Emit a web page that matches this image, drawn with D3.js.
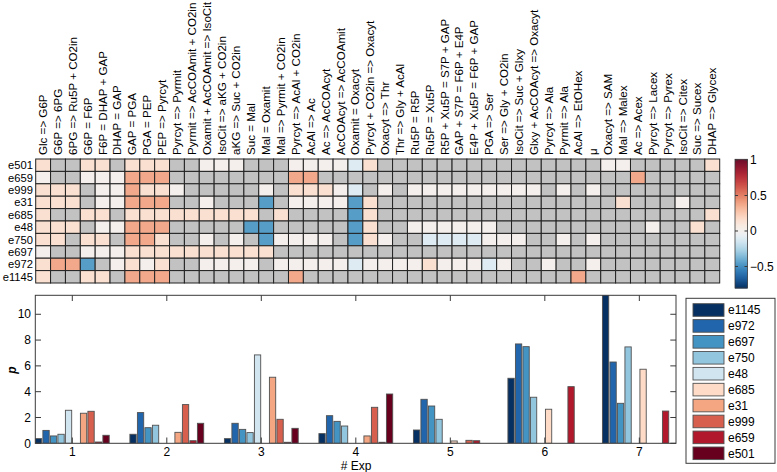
<!DOCTYPE html>
<html><head><meta charset="utf-8">
<script src="https://cdn.jsdelivr.net/npm/d3@7"></script>
<style>body{margin:0;background:#fff} text{font-family:"Liberation Sans",Arial,Helvetica,sans-serif;fill:#000}</style>
</head><body><svg id="c" width="777" height="472"></svg>
<script>
// ---------- DATA ----------
const reactions = ["Glc => G6P","G6P => 6PG","6PG => Ru5P + CO2in","G6P = F6P","F6P = DHAP + GAP","DHAP = GAP","GAP = PGA","PGA = PEP","PEP => Pyrcyt","Pyrcyt => Pyrmit","Pyrmit => AcCOAmit + CO2in","Oxamit + AcCOAmit => IsoCit","IsoCit => aKG + CO2in","aKG => Suc + CO2in","Suc = Mal","Mal = Oxamit","Mal => Pyrmit + CO2in","Pyrcyt => AcAl + CO2in","AcAl => Ac","Ac => AcCOAcyt","AcCOAcyt => AcCOAmit","Oxamit = Oxacyt","Pyrcyt + CO2in => Oxacyt","Oxacyt => Thr","Thr => Gly + AcAl","Ru5P = R5P","Ru5P = Xu5P","R5P + Xu5P = S7P + GAP","GAP + S7P = F6P + E4P","E4P + Xu5P = F6P + GAP","PGA => Ser","Ser => Gly + CO2in","IsoCit => Suc + Glxy","Glxy + AcCOAcyt => Oxacyt","Pyrcyt => Ala","Pyrmit => Ala","AcAl => EtOHex","\u03bc","Oxacyt => SAM","Mal => Malex","Ac => Acex","Pyrcyt => Lacex","Pyrcyt => Pyrex","IsoCit => Citex","Suc => Sucex","DHAP => Glycex"];
const strains = ["e501","e659","e999","e31","e685","e48","e750","e697","e972","e1145"];
const _ = null;
//                 1    2    3    4    5    6    7    8    9   10   11   12   13   14   15   16   17   18   19   20   21   22   23   24   25   26   27   28   29   30   31   32   33   34   35   36   37   38   39   40   41   42   43   44   45   46
const heatE501  = [.15,  _,   _, .15, .15,  _, .15, .15, .15,  _,   _, .02, .02, .02,  _,   _,   _, .02, .02, .02, .02,-.10, .15,  _,   _,   _,   _,   _,   _,   _,   _,   _,   _,   _,   _,   _,   _,   _, .02, .02,  _,   _,   _,   _,   _, .15];
const heatE659  = [.02,  _,   _, .02, .02, .02, .38, .38, .38,  _,   _,   _,   _,   _,   _,   _,   _, .38, .38,  _,   _,   _,   _,   _,   _,   _,   _,   _,   _,   _,   _,   _,   _,   _,   _,   _,   _,   _,   _,   _, .38,  _,   _,   _,   _,   _];
const heatE999  = [.15, .15, .15,  _, .02, .02, .38, .15, .15, .02,   _,   _,   _,   _,   _, .02,   _, .15, .15, .15, .02,-.10,   _, .02,   _, .02, .02, .02, .02, .02, .02, .02, .02, .02,   _, .02,   _, .02,   _,   _,   _,   _,   _,   _,   _,   _];
const heatE31   = [.15, .15, .15,  _, .02, .02, .38, .38, .38,  _,   _, .02,   _,   _,   _,-.45,   _, .02, .02, .02, .02,-.45, .15,   _,   _,   _,   _,   _,   _,   _,   _,   _,   _,   _,   _,   _,   _,   _,   _, .15,   _,   _,   _, .02,   _,   _];
const heatE685  = [.15,  _,   _, .15, .15,  _, .15, .15, .15, .15, .15, .15, .15, .15, .15,   _, .15,   _,   _,   _,   _,-.45, .15,   _,   _,   _,   _,   _,   _,   _,   _,   _,   _,   _,   _,   _,   _,   _,   _,   _,   _,   _,   _,   _,   _, .15];
const heatE48   = [.15, .15, .15,  _, .02, .02, .38, .38, .38,  _,   _,   _,   _,   _,-.45,-.45,   _,   _,   _,   _,   _,-.45, .15,   _,   _, .02, .02, .02, .02, .02, .02,   _,   _,   _,   _,   _,   _,   _,   _,   _,   _, .02,   _,   _, .15,   _];
const heatE750  = [.15, .15,  _, .15, .15,  _, .38, .38, .15,  _,   _, .02,   _, .02,   _,-.45, .02, .02, .02, .02,   _,-.45, .15, .02,   _,   _,-.10,-.10,-.10,-.10, .02, .02, .02,   _,   _, .02,   _, .02,   _,   _,   _,   _,   _,   _,   _,   _];
const heatE697  = [.02,  _,   _, .02, .02, .02, .15, .15, .15, .15, .15, .15, .15, .15, .15, .15,   _,   _,   _,   _,   _,   _,   _,   _,   _,   _,   _,   _,   _,   _,   _,   _,   _,   _,   _,   _,   _,   _,   _,   _,   _,   _,   _,   _,   _,   _];
const heatE972  = [.15, .38, .38,-.45,  _, .02, .15, .02, .15,  _,   _, .02, .02, .02, .02,   _, .02, .02, .02, .02, .02,-.10, .02, .02, .02, .02, .15, .02, .02, .02,-.10, .02,   _,   _, .02,   _,   _, .02,   _,   _,   _,   _,   _,   _,   _,   _];
const heatE1145 = [.15,  _,   _, .15, .15,  _, .38, .38, .38,  _,   _,   _,   _,   _,   _,   _,   _, .38,   _,   _,   _,   _,   _,   _,   _,   _,   _,   _,   _,   _,   _,   _,   _,   _,   _,   _, .38,   _,   _,   _,   _,   _,   _,   _,   _,   _];
const heatRows = [heatE501, heatE659, heatE999, heatE31, heatE685, heatE48, heatE750, heatE697, heatE972, heatE1145];
const colorTicks = [1, 0.5, 0, -0.5];

const expLabels = [1, 2, 3, 4, 5, 6, 7];
const barSeries = ["e1145","e972","e697","e750","e48","e685","e31","e999","e659","e501"];
const pE1145 = [0.36, 0.70, 0.36, 0.75, 1.03, 5.04, 12.0];
const pE972  = [1.00, 2.38, 1.55, 2.14, 3.41, 7.70, 6.30];
const pE697  = [0.57, 1.21, 1.08, 1.70, 2.89, 7.49, 3.10];
const pE750  = [0.70, 1.40, 0.83, 1.34, 1.86, 3.57, 7.47];
const pE48   = [2.56, _, 6.85, _, _, _, _];
const pE685  = [_, _, _, _, 0.18, 2.64, 5.74];
const pE31   = [2.33, 0.85, 5.12, 0.57, _, _, _];
const pE999  = [2.48, 3.00, 1.86, 2.79, 0.23, _, _];
const pE659  = [0.10, 0.20, 0.08, 0.08, 0.20, 4.39, 2.50];
const pE501  = [0.62, 1.55, 1.16, 3.82, _, _, _];
const barValues = [pE1145, pE972, pE697, pE750, pE48, pE685, pE31, pE999, pE659, pE501];
const yTicks = [0, 2, 4, 6, 8, 10];

// ---------- DRAW ----------
const svg = d3.select("#c");
const AX = "#3a3a3a";

// Heatmap
const hx = d3.scaleBand(d3.range(reactions.length), [35.7, 719.7]);
const hy = d3.scaleBand(strains, [159, 283]);
const color = d3.scaleDiverging([-0.8, 0, 1], t => d3.interpolateRdBu(1 - t));
const heat = svg.append("g");
strains.forEach((s, r) => {
  heatRows[r].forEach((v, c) => {
    heat.append("rect")
      .attr("x", hx(c)).attr("y", hy(s))
      .attr("width", hx.bandwidth()).attr("height", hy.bandwidth())
      .attr("fill", v === null ? "#c2c2c2" : color(v))
      .attr("stroke", "#222").attr("stroke-width", 1);
  });
});
// column labels
svg.append("g").selectAll("text").data(reactions).join("text")
  .attr("transform", (d, i) => `translate(${hx(i) + hx.bandwidth() / 2 + 4},155) rotate(-90)`)
  .attr("font-size", 11.6).text(d => d);
// row labels
svg.append("g").selectAll("text").data(strains).join("text")
  .attr("x", 33).attr("y", d => hy(d) + hy.bandwidth() / 2 + 4)
  .attr("text-anchor", "end").attr("font-size", 11.2).text(d => d);

// Colorbar
const cb = d3.scaleLinear([-0.803, 1.01], [288, 159.3]);
const cbg = svg.append("g");
const nSteps = 128;
for (let k = 0; k < nSteps; k++) {
  const v0 = -0.803 + (1.813 * k) / nSteps, v1 = -0.803 + (1.813 * (k + 1)) / nSteps;
  cbg.append("rect").attr("x", 735).attr("width", 12.5)
    .attr("y", cb(v1)).attr("height", cb(v0) - cb(v1) + 0.5)
    .attr("fill", color((v0 + v1) / 2));
}
cbg.append("rect").attr("x", 735).attr("y", 159.3).attr("width", 12.5).attr("height", 288 - 159.3)
  .attr("fill", "none").attr("stroke", AX).attr("stroke-width", 0.8);
colorTicks.forEach(t => {
  cbg.append("line").attr("x1", 744.5).attr("x2", 747.5).attr("y1", cb(t)).attr("y2", cb(t)).attr("stroke", AX);
  cbg.append("line").attr("x1", 735).attr("x2", 738).attr("y1", cb(t)).attr("y2", cb(t)).attr("stroke", AX);
  cbg.append("text").attr("x", 750).attr("y", cb(t) + 4.2).attr("font-size", 12)
    .text(t < 0 ? "\u2212" + Math.abs(t) : String(t));
});

// Bar chart
const x = d3.scaleLinear([0.6085, 7.388], [35.3, 676]);
const y = d3.scaleLinear([0, 11.47], [443.3, 295.3]);
const inner = d3.scaleBand(barSeries, [-37.5, 37.5]).paddingInner(0.16).paddingOuter(0.08);
const barColors = d3.schemeRdBu[10].slice().reverse();
svg.append("clipPath").attr("id", "clip").append("rect")
  .attr("x", 35.3).attr("y", 295.3).attr("width", 676 - 35.3).attr("height", 443.3 - 295.3);
const bars = svg.append("g").attr("clip-path", "url(#clip)");
barSeries.forEach((s, i) => {
  barValues[i].forEach((v, g) => {
    if (v === null) return;
    bars.append("rect")
      .attr("x", x(expLabels[g]) + inner(s)).attr("width", inner.bandwidth())
      .attr("y", y(v)).attr("height", y(0) - y(v))
      .attr("fill", barColors[i]).attr("stroke", "#505050").attr("stroke-width", 0.9);
  });
});
// axes box
const axg = svg.append("g").attr("stroke", AX).attr("stroke-width", 1).attr("fill", "none");
axg.append("rect").attr("x", 35.3).attr("y", 295.3).attr("width", 676 - 35.3).attr("height", 443.3 - 295.3);
expLabels.forEach(e => {
  axg.append("line").attr("x1", x(e)).attr("x2", x(e)).attr("y1", 443.3).attr("y2", 437.5);
  axg.append("line").attr("x1", x(e)).attr("x2", x(e)).attr("y1", 295.3).attr("y2", 301);
  svg.append("text").attr("x", x(e)).attr("y", 456).attr("text-anchor", "middle").attr("font-size", 12).text(e);
});
yTicks.forEach(t => {
  axg.append("line").attr("x1", 35.3).attr("x2", 41).attr("y1", y(t)).attr("y2", y(t));
  axg.append("line").attr("x1", 676).attr("x2", 670.3).attr("y1", y(t)).attr("y2", y(t));
  svg.append("text").attr("x", 31).attr("y", y(t) + 4.2).attr("text-anchor", "end").attr("font-size", 12).text(t);
});
svg.append("text").attr("x", 356).attr("y", 470).attr("text-anchor", "middle").attr("font-size", 12).text("# Exp");
svg.append("text").attr("transform", "translate(16,370) rotate(-90)").attr("text-anchor", "middle")
  .attr("font-size", 12).attr("font-weight", "bold").attr("font-style", "italic").text("p");

// Legend
const lg = svg.append("g");
lg.append("rect").attr("x", 686).attr("y", 298.3).attr("width", 89).attr("height", 165)
  .attr("fill", "#fff").attr("stroke", AX).attr("stroke-width", 1);
const ly = d3.scalePoint(barSeries, [310, 453.3]);
barSeries.forEach((s, i) => {
  lg.append("rect").attr("x", 693).attr("y", ly(s) - 6.3).attr("width", 31).attr("height", 12.6)
    .attr("fill", barColors[i]).attr("stroke", "#505050").attr("stroke-width", 0.9);
  lg.append("text").attr("x", 728).attr("y", ly(s) + 4.3).attr("font-size", 12).text(s);
});
</script></body></html>
